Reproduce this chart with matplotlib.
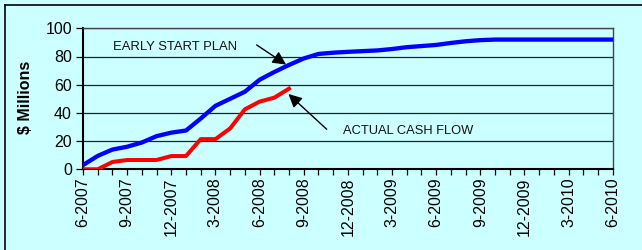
import matplotlib
matplotlib.use("Agg")
import matplotlib.pyplot as plt
from matplotlib.lines import Line2D

plt.rcParams['font.family'] = ['Liberation Sans', 'DejaVu Sans']

# Data (monthly, starting 6-2007)
tick_labels = ["6-2007", "9-2007", "12-2007", "3-2008", "6-2008", "9-2008",
               "12-2008", "3-2009", "6-2009", "9-2009", "12-2009", "3-2010", "6-2010"]
early_start_plan = [3, 9.5, 14, 16, 19, 23.5, 26, 27.5, 36, 45, 50, 55, 63.5, 69, 74,
                    78.6, 81.8, 82.7, 83.3, 83.8, 84.3, 85.3, 86.6, 87.4, 88.2, 89.6,
                    90.8, 91.6, 92, 92, 92, 92, 92, 92, 92, 92, 92]
actual_cash_flow = [0, 0, 5.2, 6.6, 6.6, 6.6, 9.4, 9.4, 21.4, 21.4, 29, 42.5, 48, 50.8, 57.2]

months_plan = list(range(len(early_start_plan)))
months_actual = list(range(len(actual_cash_flow)))

bg = '#CCFFFF'
fig = plt.figure(figsize=(6.42, 2.50), dpi=100)
fig.patch.set_facecolor(bg)

ax = fig.add_axes([0.1293, 0.3228, 0.8251, 0.5640])
ax.set_facecolor(bg)

ax.plot(months_plan, early_start_plan, color='#0000FF', lw=3.1, solid_joinstyle='round', zorder=3)
ax.plot(months_actual, actual_cash_flow, color='#FF0000', lw=2.9, solid_joinstyle='round', zorder=3)

ax.set_xlim(0, 36)
ax.set_ylim(0, 100)
ax.set_yticks([0, 20, 40, 60, 80, 100])
ax.set_xticks(list(range(0, 37, 3)))
ax.set_xticklabels(tick_labels, rotation=90)
ax.set_xticks(list(range(0, 37)), minor=True)

ax.grid(axis='y', color='#222222', lw=0.9, zorder=1)
ax.tick_params(axis='y', labelsize=11.5, length=5, width=0.9, direction='out', pad=3)
ax.tick_params(axis='x', which='both', labelsize=11.5, length=4, width=0.9, direction='out', pad=2)

for s in ['left', 'bottom']:
    ax.spines[s].set_color('black')
    ax.spines[s].set_linewidth(1.5)
ax.spines['right'].set_color('#444444')
ax.spines['right'].set_linewidth(1.0)
ax.spines['top'].set_color('#444444')
ax.spines['top'].set_linewidth(1.0)

ax.set_ylabel('$ Millions', fontsize=11.5, fontweight='bold')
ax.yaxis.set_label_coords(-0.094, 0.51)

ax.text(2.05, 87, 'EARLY START PLAN', fontsize=9.4, va='center', ha='left', color='#111111')
ax.annotate('', xy=(13.8, 74.3), xytext=(11.8, 88.2),
            arrowprops=dict(arrowstyle='-|>', color='black', lw=1.0, mutation_scale=20,
                            shrinkA=0, shrinkB=0))
ax.text(17.7, 27, 'ACTUAL CASH FLOW', fontsize=9.3, va='center', ha='left', color='#111111')
ax.annotate('', xy=(13.96, 53.4), xytext=(16.56, 28.4),
            arrowprops=dict(arrowstyle='-|>', color='black', lw=1.0, mutation_scale=20,
                            shrinkA=0, shrinkB=0))

# outer frame (left and top edges)
fig.add_artist(Line2D([4.5 / 642, 4.5 / 642], [0, 1 - 5 / 250], transform=fig.transFigure,
                      color='black', lw=1.2))
fig.add_artist(Line2D([4.5 / 642, 1], [1 - 5 / 250, 1 - 5 / 250], transform=fig.transFigure,
                      color='black', lw=1.2))

fig.savefig('out.png', dpi=100, facecolor=bg)
